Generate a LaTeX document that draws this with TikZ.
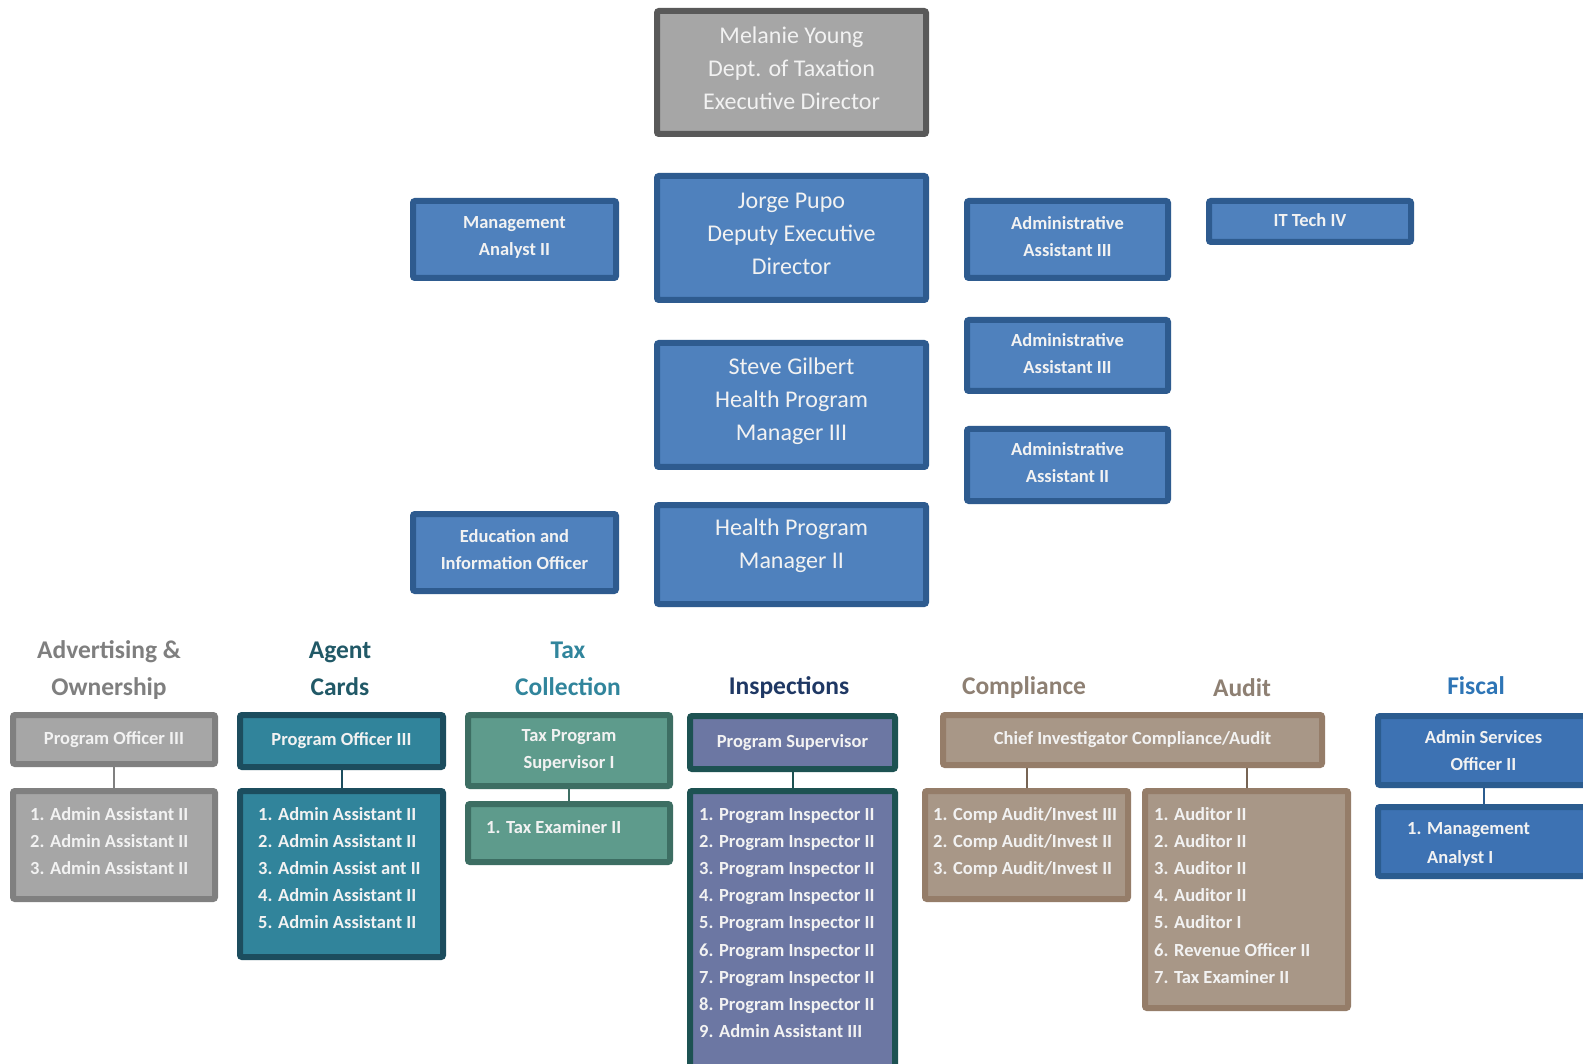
\documentclass[tikz,border=0pt]{standalone}
\usepackage{fontspec}
\setmainfont{Carlito}
\pgfdeclarelayer{bg}
\pgfsetlayers{bg,main}
\definecolor{txt}{HTML}{F2F2F2}
\definecolor{topfill}{HTML}{4F81BD}
\definecolor{topdraw}{HTML}{2E5B8F}
\definecolor{melfill}{HTML}{A6A6A6}
\definecolor{meldraw}{HTML}{595959}
\definecolor{advfill}{HTML}{A6A6A6}
\definecolor{advdraw}{HTML}{808080}
\definecolor{agentfill}{HTML}{31849B}
\definecolor{agentdraw}{HTML}{1C4D5E}
\definecolor{taxfill}{HTML}{5E9B8C}
\definecolor{taxdraw}{HTML}{3D6E63}
\definecolor{inspfill}{HTML}{6C77A3}
\definecolor{inspdraw}{HTML}{1D5252}
\definecolor{compfill}{HTML}{A89787}
\definecolor{compdraw}{HTML}{957D69}
\definecolor{fiscfill}{HTML}{3D72B3}
\definecolor{fiscdraw}{HTML}{2B5C8F}
\definecolor{hadv}{HTML}{7F7F7F}
\definecolor{hagent}{HTML}{215967}
\definecolor{htax}{HTML}{31859C}
\definecolor{hinsp}{HTML}{1F3864}
\definecolor{hcomp}{HTML}{8E8073}
\definecolor{hfisc}{HTML}{2E75B6}
\newcommand\joblist[1]{\begin{tabular}[t]{@{}l@{}}#1\end{tabular}}
\begin{document}
\begin{tikzpicture}[x=1pt,y=-1pt,
  box/.style={draw, line width=6pt, rounded corners=2pt, inner sep=0pt, align=center, text=txt},
  big/.style={box, font=\fontsize{24}{33}\selectfont},
  small/.style={box, font=\bfseries\fontsize{18.5}{27}\selectfont},
  bigtext/.style={inner sep=0pt, align=center, text=txt, font=\fontsize{24}{33}\selectfont},
  smalltext/.style={inner sep=0pt, align=center, text=txt, font=\bfseries\fontsize{18.5}{27}\selectfont},
  topblue/.style={fill=topfill, draw=topdraw},
  head/.style={font=\bfseries\fontsize{25.5}{37}\selectfont, align=center, inner sep=0pt},
  listtext/.style={anchor=base west, inner sep=0pt, text=txt, font=\bfseries\fontsize{18.5}{27.2}\selectfont},
  conn/.style={line width=2pt},
  adv/.style={fill=advfill, draw=advdraw},
  agent/.style={fill=agentfill, draw=agentdraw},
  tax/.style={fill=taxfill, draw=taxdraw},
  insp/.style={fill=inspfill, draw=inspdraw},
  comp/.style={fill=compfill, draw=compdraw},
  fisc/.style={fill=fiscfill, draw=fiscdraw},
]
\useasboundingbox (0,0) rectangle (1583,1064);
\begin{pgfonlayer}{bg}
\fill[white] (0,0) rectangle (1583,1064);
\end{pgfonlayer}

% top section: boxes
\node[big, fill=melfill, draw=meldraw, minimum width=269pt, minimum height=123pt] (mel) at (791.5,72.5) {};
\node[big, topblue, minimum width=269pt, minimum height=124pt] (jorge) at (791.5,238) {};
\node[big, topblue, minimum width=269pt, minimum height=124pt] (steve) at (791.5,405) {};
\node[big, topblue, minimum width=269pt, minimum height=99pt] (hpm) at (791.5,554.5) {};
\node[small, topblue, minimum width=203pt, minimum height=77pt] (ma2) at (514.5,239.5) {};
\node[small, topblue, minimum width=203pt, minimum height=77pt] (edu) at (514.5,552.5) {};
\node[small, topblue, minimum width=201pt, minimum height=77pt] (aa3a) at (1067.5,239.5) {};
\node[small, topblue, minimum width=202pt, minimum height=41pt] (it) at (1310,221.5) {};
\node[small, topblue, minimum width=201pt, minimum height=71pt] (aa3b) at (1067.5,355.5) {};
\node[small, topblue, minimum width=201pt, minimum height=72pt] (aa2) at (1067.5,465) {};

% top section: texts
\node[bigtext] (melT) at (791.5,68.5) {Melanie Young\\Dept. of Taxation\\Executive Director};
\node[bigtext] (jorgeT) at (791.5,234) {Jorge Pupo\\Deputy Executive\\Director};
\node[bigtext] (steveT) at (791.5,401.5) {Steve Gilbert\\Health Program\\Manager III};
\node[bigtext] (hpmT) at (791.5,545.5) {Health Program\\Manager II};
\node[smalltext] (ma2T) at (514.5,237) {Management\\Analyst II};
\node[smalltext] (eduT) at (514.5,550) {Education and\\Information Officer};
\node[smalltext] (aa3aT) at (1067.5,236.5) {Administrative\\Assistant III};
\node[smalltext] (itT) at (1310,220) {IT Tech IV};
\node[smalltext] (aa3bT) at (1067.5,353.5) {Administrative\\Assistant III};
\node[smalltext] (aa2T) at (1067.5,463) {Administrative\\Assistant II};

% section headings
\node[head, text=hadv] (hAdv) at (109,670) {Advertising \&\\Ownership};
\node[head, text=hagent] (hAgent) at (340,669) {Agent\\Cards};
\node[head, text=htax] (hTax) at (568,669) {Tax\\Collection};
\node[head, text=hinsp] (hInsp) at (789,688) {Inspections};
\node[head, text=hcomp] (hComp) at (1024,688) {Compliance};
\node[head, text=hcomp] (hAudit) at (1242,688) {Audit};
\node[head, text=hfisc] (hFisc) at (1476,686) {Fiscal};

% Advertising & Ownership
\node[small, adv, minimum width=202pt, minimum height=49pt] (advPO) at (114,739.5) {Program Officer III};
\node[small, adv, minimum width=202pt, minimum height=108pt] (advL) at (114,845) {};
\node[listtext] (advT) at (30,820) {\joblist{1. Admin Assistant II\\2. Admin Assistant II\\3. Admin Assistant II}};

% Agent Cards
\node[small, agent, minimum width=203pt, minimum height=52pt] (agPO) at (341.5,741) {Program Officer III};
\node[small, agent, minimum width=203pt, minimum height=166pt] (agL) at (341.5,874) {};
\node[listtext] (agT) at (258,820) {\joblist{1. Admin Assistant II\\2. Admin Assistant II\\3. Admin Assist ant II\\4. Admin Assistant II\\5. Admin Assistant II}};

% Tax Collection
\node[small, tax, minimum width=202pt, minimum height=71pt] (taxPO) at (569,750.5) {Tax Program\\Supervisor I};
\node[small, tax, minimum width=202pt, minimum height=58pt] (taxL) at (569,833) {};
\node[listtext] (taxT) at (486,833) {1. Tax Examiner II};

% Inspections
\node[small, insp, minimum width=205pt, minimum height=53pt] (inPO) at (792.5,742.5) {Program Supervisor};
\node[small, insp, minimum width=205pt, minimum height=276pt] (inL) at (792.5,929) {};
\node[listtext] (inT) at (699,820) {\joblist{1. Program Inspector II\\2. Program Inspector II\\3. Program Inspector II\\4. Program Inspector II\\5. Program Inspector II\\6. Program Inspector II\\7. Program Inspector II\\8. Program Inspector II\\9. Admin Assistant III}};

% Compliance / Audit
\node[small, comp, minimum width=379pt, minimum height=50pt] (chief) at (1132.5,740) {Chief Investigator Compliance/Audit};
\node[small, comp, minimum width=203pt, minimum height=108pt] (coL) at (1026.5,845) {};
\node[listtext] (coT) at (933,820) {\joblist{1. Comp Audit/Invest III\\2. Comp Audit/Invest II\\3. Comp Audit/Invest II}};
\node[small, comp, minimum width=203pt, minimum height=217pt] (auL) at (1246.5,899.5) {};
\node[listtext] (auT) at (1154,820) {\joblist{1. Auditor II\\2. Auditor II\\3. Auditor II\\4. Auditor II\\5. Auditor I\\6. Revenue Officer II\\7. Tax Examiner II}};

% Fiscal
\node[small, fisc, minimum width=211pt, minimum height=69pt] (aso) at (1483.5,750.5) {Admin Services\\Officer II};
\node[small, fisc, minimum width=211pt, minimum height=69pt] (maI) at (1483.5,841.5) {};
\node[listtext, font=\bfseries\fontsize{18.5}{29}\selectfont] (maT) at (1407,834) {\joblist{\makebox[20pt][l]{1.}Management\\\hspace*{20pt}Analyst I}};

% connectors
\begin{pgfonlayer}{bg}
\draw[conn, draw=advdraw] (advPO.south) -- (advL.north);
\draw[conn, draw=agentdraw] (agPO.south) -- (agL.north);
\draw[conn, draw=taxdraw] (taxPO.south) -- (taxL.north);
\draw[conn, draw=inspdraw] (inPO.south) -- (inL.north);
\draw[conn, draw=compdraw!80!black] (coL.north |- chief.south) -- (coL.north);
\draw[conn, draw=compdraw!80!black] (auL.north |- chief.south) -- (auL.north);
\draw[conn, draw=fiscdraw] (aso.south) -- (maI.north);
\end{pgfonlayer}
\end{tikzpicture}
\end{document}
